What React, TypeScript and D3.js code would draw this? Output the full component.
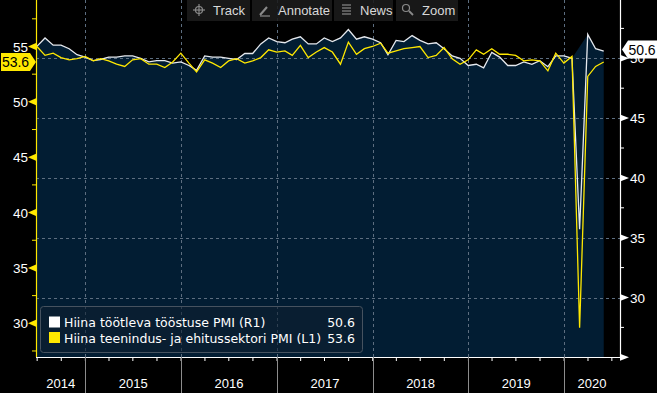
import React from 'react';
import * as d3 from 'd3';

// NBS PMI, monthly, Jun 2014 - May 2020
const startYear = 2014;
const startMonth = 5; // June (0-based)
const mfgPmi = [
  51.0, 51.7, 51.1, 51.1, 50.8, 50.3, 50.1,
  49.8, 49.9, 50.1, 50.1, 50.2, 50.2, 50.0, 49.7, 49.8, 49.8, 49.6, 49.7,
  49.4, 49.0, 50.2, 50.1, 50.1, 50.0, 49.9, 50.4, 50.4, 51.2, 51.7, 51.4,
  51.3, 51.6, 51.8, 51.2, 51.2, 51.7, 51.4, 51.7, 52.4, 51.6, 51.8, 51.6,
  51.3, 50.3, 51.5, 51.4, 51.9, 51.5, 51.2, 51.3, 50.8, 50.2, 50.0, 49.4,
  49.5, 49.2, 50.5, 50.1, 49.4, 49.4, 49.7, 49.5, 49.8, 49.3, 50.2, 50.2,
  50.0, 35.7, 52.0, 50.8, 50.6,
];
const nonMfgPmi = [
  55.0, 54.2, 54.4, 54.0, 53.8, 53.9, 54.1,
  53.7, 53.9, 53.7, 53.4, 53.2, 53.8, 53.9, 53.4, 53.4, 53.1, 53.6, 54.4,
  53.5, 52.7, 53.8, 53.5, 53.1, 53.7, 53.9, 53.5, 53.7, 54.0, 54.7, 54.5,
  54.6, 54.2, 55.1, 54.0, 54.5, 54.9, 54.5, 53.4, 55.4, 54.3, 54.8, 55.0,
  55.3, 54.4, 54.6, 54.8, 54.9, 55.0, 54.0, 54.2, 54.9, 53.9, 53.4, 53.8,
  54.7, 54.3, 54.8, 54.3, 54.3, 54.2, 53.7, 53.8, 53.7, 52.8, 54.4, 53.5,
  54.1, 29.6, 52.3, 53.2, 53.6,
];
const years = [2014, 2015, 2016, 2017, 2018, 2019, 2020];
const leftTicks = [30, 35, 40, 45, 50, 55];
const leftMinor = [27.5, 32.5, 37.5, 42.5, 47.5, 52.5, 57.5];
const rightTicks = [25, 30, 35, 40, 45, 50];
const rightMinor = [27.5, 32.5, 37.5, 42.5, 47.5, 52.5];
const seriesNames = ['Hiina töötleva tööstuse PMI (R1)', 'Hiina teenindus- ja ehitussektori PMI (L1)'];
const toolButtons = ['Track', 'Annotate', 'News', 'Zoom'];

const W = 657;
const H = 393;
const axL = 36;
const axR = 620;
const axB = 357;
const YELLOW = '#ffe800';
const NAVY = '#021d33';
const GRID = '#5d6e80';
const FONT = '"Liberation Sans", Arial, sans-serif';
const WIDE = '"DejaVu Sans", sans-serif';

const dates = mfgPmi.map((_, i) => new Date(startYear, startMonth + i + 1, 0));

const x = d3.scaleTime()
  .domain([new Date(2014, 0, 1), new Date(2021, 0, 1)])
  .range([-10.3, 660.1]);
const yL = d3.scaleLinear().domain([30, 55]).range([323.3, 46.5]);
const yR = d3.scaleLinear().domain([25, 50]).range([357.3, 58.3]);

function Toolbar() {
  const btns = [
    { x0: 187, x1: 250, tx: 213 },
    { x0: 252, x1: 332, tx: 278 },
    { x0: 334, x1: 393, tx: 360 },
    { x0: 396, x1: 458, tx: 422 },
  ];
  return (
    <g fontFamily={FONT} fontSize={13} fill="#d8d8d8">
      {btns.map((b, i) => (
        <g key={i}>
          <rect x={b.x0} y={0} width={b.x1 - b.x0} height={21} fill="#1b1b1b" opacity={0.88} />
          <text x={b.tx} y={15}>{toolButtons[i]}</text>
        </g>
      ))}
      {/* icons */}
      <g stroke="#8a8a8a" strokeWidth={1.2} fill="none">
        <circle cx={199} cy={10} r={3.5} />
        <line x1={193} y1={10} x2={205} y2={10} />
        <line x1={199} y1={4} x2={199} y2={16} />
        <line x1={260} y1={15} x2={267} y2={7} strokeWidth={2} />
        <line x1={260} y1={16} x2={270} y2={16} />
        {[5, 8, 11, 14].map(yy => <line key={yy} x1={342} y1={yy} x2={351} y2={yy} />)}
        <circle cx={406} cy={8} r={3.5} />
        <line x1={409} y1={11} x2={413} y2={15} strokeWidth={1.8} />
      </g>
    </g>
  );
}

export default function App() {
  const rows = dates.map((d, i) => ({ d, m: mfgPmi[i], n: nonMfgPmi[i] }));
  const areaRows = rows.filter(r => r.m > 45);
  const area = d3.area<any>().x(r => x(r.d)).y0(axB).y1(r => yR(r.m))(areaRows) || '';
  const lineM = d3.line<any>().x(r => x(r.d)).y(r => yR(r.m))(rows) || '';
  const lineN = d3.line<any>().x(r => x(r.d)).y(r => yL(r.n))(rows) || '';

  const yearStarts = years.slice(1).map(y => x(new Date(y, 0, 1)));
  const quarters = d3.timeMonth.every(3)!.range(new Date(2014, 6, 1), new Date(2020, 7, 1));
  const lastM = mfgPmi[mfgPmi.length - 1];
  const lastN = nonMfgPmi[nonMfgPmi.length - 1];
  const ly = yL(lastN);
  const ry = yR(lastM) - 1.5;

  return (
    <svg width={W} height={H} style={{ position: 'fixed', left: 0, top: 0 }} fontFamily={FONT}>
      <rect width={W} height={H} fill="#000" />
      <path d={area} fill={NAVY} />

      {/* grid */}
      <g stroke={GRID} strokeWidth={1} strokeDasharray="3,3">
        {rightTicks.map(t => (
          <line key={t} x1={axL} x2={axR} y1={Math.round(yR(t)) + 0.5} y2={Math.round(yR(t)) + 0.5} />
        ))}
        {yearStarts.map((xx, i) => (
          <line key={i} x1={Math.round(xx) + 0.5} x2={Math.round(xx) + 0.5} y1={0} y2={axB} />
        ))}
      </g>

      <Toolbar />

      {/* series */}
      <path d={lineM} fill="none" stroke="#e6e9ee" strokeWidth={1.3} />
      <path d={lineN} fill="none" stroke={YELLOW} strokeWidth={1.3} />

      {/* left axis */}
      <line x1={axL + 0.5} x2={axL + 0.5} y1={0} y2={axB} stroke={YELLOW} strokeWidth={1.2} />
      {leftMinor.map(t => (
        <line key={t} x1={axL - 4} x2={axL} y1={yL(t)} y2={yL(t)} stroke={YELLOW} />
      ))}
      {leftTicks.map(t => (
        <g key={t}>
          <path d={`M${axL},${yL(t) - 3.5}L${axL - 8},${yL(t)}L${axL},${yL(t) + 3.5}Z`} fill={YELLOW} />
          <text x={28} y={yL(t) + 5} textAnchor="end" fill="#fff" fontSize={13.5}>{t}</text>
        </g>
      ))}

      {/* right axis */}
      <line x1={axR + 0.5} x2={axR + 0.5} y1={0} y2={axB} stroke="#fff" strokeWidth={1.2} />
      {rightMinor.map(t => (
        <line key={t} x1={axR} x2={axR + 4} y1={yR(t)} y2={yR(t)} stroke="#fff" />
      ))}
      {rightTicks.map(t => (
        <g key={t}>
          <path d={`M${axR},${yR(t) - 3.5}L${axR + 9},${yR(t)}L${axR},${yR(t) + 3.5}Z`} fill="#fff" />
          {t > 25 && <text x={630} y={yR(t) + 5} fill="#fff" fontSize={13.5}>{t}</text>}
        </g>
      ))}

      {/* bottom axis */}
      <line x1={axL} x2={axR} y1={axB + 0.5} y2={axB + 0.5} stroke="#fff" />
      {quarters.map((q, i) => (
        <line key={i} x1={x(q)} x2={x(q)} y1={axB} y2={axB + 4} stroke="#fff" />
      ))}
      {yearStarts.map((xx, i) => (
        <line key={i} x1={Math.round(xx) + 0.5} x2={Math.round(xx) + 0.5} y1={axB} y2={H} stroke="#8c8c8c" />
      ))}
      {years.map((yr) => {
        const a = Math.max(axL, x(new Date(yr, 0, 1)));
        const b = Math.min(axR, x(new Date(yr + 1, 0, 1)));
        return (
          <text key={yr} x={(a + b) / 2} y={388} textAnchor="middle" fill="#fff" fontSize={13}>{yr}</text>
        );
      })}

      {/* legend */}
      <rect x={40.5} y={306.5} width={322} height={46} rx={3} fill="#0f1f30" fillOpacity={0.6} stroke="#46525f" />
      <rect x={49} y={316.5} width={11} height={11} fill="#fff" />
      <rect x={49} y={332} width={11} height={11} fill={YELLOW} />
      <g fill="#fff" fontSize={12.5} fontFamily={WIDE}>
        <text x={64} y={327}>{seriesNames[0]}</text>
        <text x={64} y={342.5}>{seriesNames[1]}</text>
        <text x={355} y={327} textAnchor="end">{lastM.toFixed(1)}</text>
        <text x={355} y={342.5} textAnchor="end">{lastN.toFixed(1)}</text>
      </g>

      {/* last value tags */}
      <path d={`M1,${ly - 9}H30L36,${ly}L30,${ly + 9}H1Z`} fill={YELLOW} />
      <text x={15.5} y={ly + 5} textAnchor="middle" fill="#000" fontSize={14}>{lastN.toFixed(1)}</text>
      <path d={`M622,${ry}L628,${ry - 9}H657V${ry + 9}H628Z`} fill="#fff" />
      <text x={642} y={ry + 5} textAnchor="middle" fill="#000" fontSize={14}>{lastM.toFixed(1)}</text>
    </svg>
  );
}
